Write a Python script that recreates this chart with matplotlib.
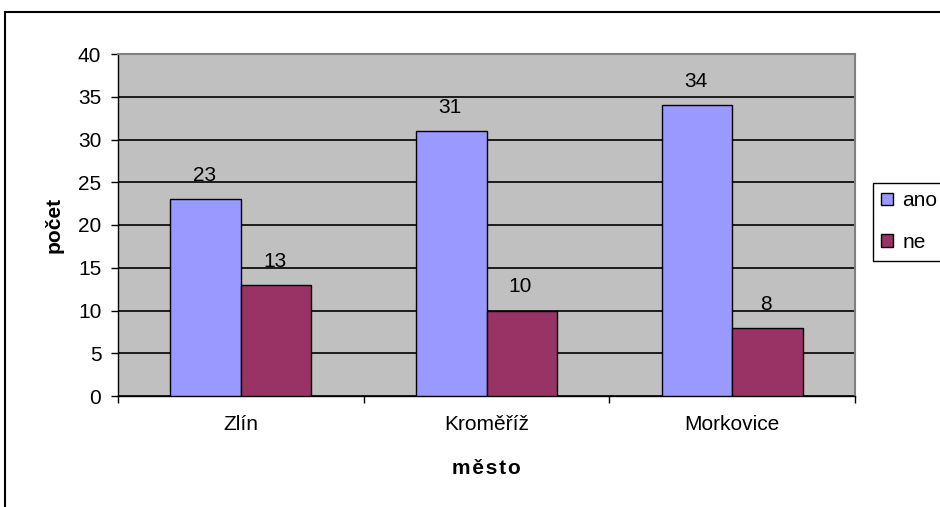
import matplotlib.pyplot as plt
import matplotlib.patches as patches
import numpy as np

plt.rcParams['font.family'] = ['Liberation Sans', 'DejaVu Sans']

# data
mesta = ["Zlín", "Kroměříž", "Morkovice"]
ano = [23, 31, 34]
ne = [13, 10, 8]
yticks = [0, 5, 10, 15, 20, 25, 30, 35, 40]

W, H = 940, 507
fs = 15
fig = plt.figure(figsize=(W / 100, H / 100), dpi=100)

# outer chart frame (right/bottom edges fall outside the picture)
fig.patches.append(patches.Rectangle((5 / W, -0.05), 1.1, 1.05 - 12 / H,
                                     transform=fig.transFigure, fill=False,
                                     edgecolor="black", linewidth=1.5))

ax = fig.add_axes([118 / W, 1 - 396 / H, 737 / W, 342 / H])
ax.set_facecolor("#C0C0C0")

x = np.arange(len(mesta))
w = 0.287
b1 = ax.bar(x - w / 2, ano, w, color="#9999FF", edgecolor="black", linewidth=1, label="ano", zorder=3)
b2 = ax.bar(x + w / 2, ne, w, color="#993366", edgecolor="black", linewidth=1, label="ne", zorder=3)

for bars, vals in ((b1, ano), (b2, ne)):
    for r, v in zip(bars, vals):
        ax.annotate(str(v), (r.get_x() + r.get_width() / 2, v), xytext=(-1, 13),
                    textcoords="offset points", ha="center", va="baseline", fontsize=fs)

ax.set_ylim(0, 40)
ax.set_xlim(-0.5, len(mesta) - 0.5)
ax.set_yticks(yticks)
ax.yaxis.grid(True, color="black", linewidth=1.2, zorder=1)
ax.set_axisbelow(True)
ax.tick_params(axis="y", direction="out", length=5, width=1, labelsize=fs, pad=7)

# category labels between boundary ticks
ax.set_xticks(np.arange(-0.5, len(mesta), 1))
ax.set_xticklabels([])
ax.set_xticks(x, minor=True)
ax.set_xticklabels(mesta, minor=True, fontsize=fs)
ax.tick_params(axis="x", which="major", direction="out", length=5, width=1)
ax.tick_params(axis="x", which="minor", length=0, pad=14)

for s in ("top", "right"):
    ax.spines[s].set_color("#808080")
    ax.spines[s].set_linewidth(1.5)
for s in ("left", "bottom"):
    ax.spines[s].set_color("black")
    ax.spines[s].set_linewidth(1)

ax.set_ylabel("počet", fontsize=fs, fontweight="bold", labelpad=10)
ax.set_xlabel("m\u200aě\u200as\u200at\u200ao", fontsize=fs, fontweight="bold", labelpad=18)

fig.legend(handles=[b1, b2], labels=["ano", "ne"], loc="upper left",
           bbox_to_anchor=(873 / W, 1 - 183 / H), fontsize=fs, frameon=True,
           fancybox=False, edgecolor="black", framealpha=1, borderpad=0.4,
           handlelength=0.58, handleheight=0.58, handletextpad=0.43, labelspacing=1.1,
           borderaxespad=0)

fig.savefig("out.png", dpi=100)
